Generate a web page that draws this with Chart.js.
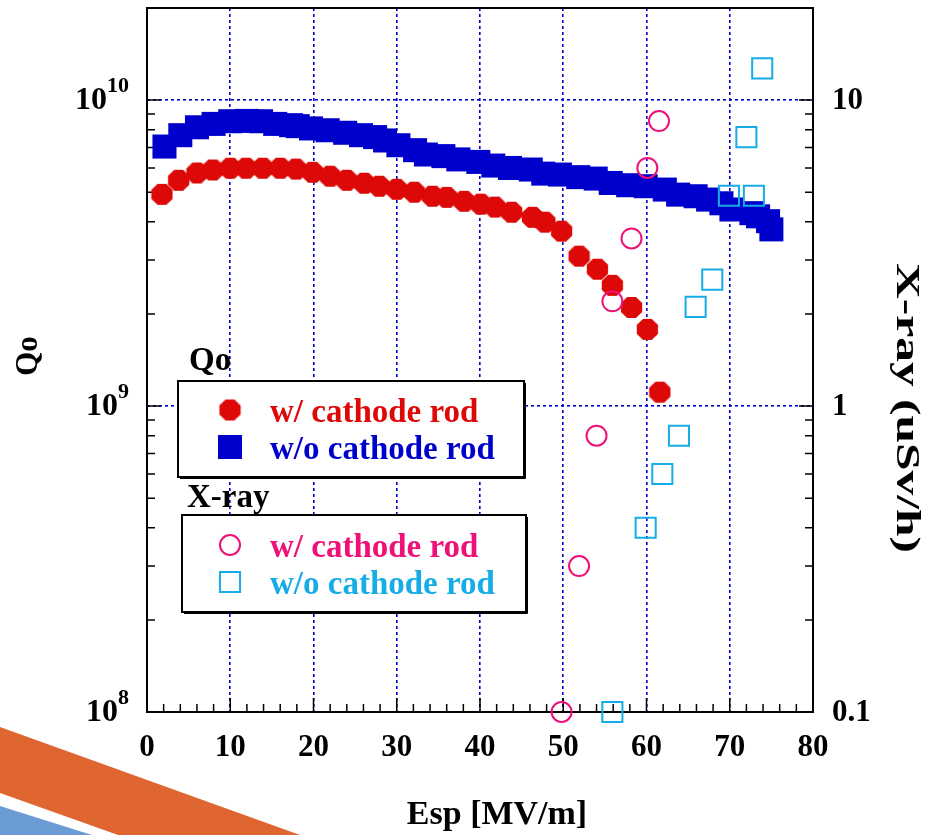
<!DOCTYPE html>
<html><head><meta charset="utf-8">
<script src="https://cdn.jsdelivr.net/npm/chart.js@4/dist/chart.umd.min.js"></script>
<style>html,body{margin:0;padding:0;background:#fff;}</style>
</head><body>
<canvas id="c" width="928" height="835"></canvas>
<script>
// ---- data ----
const qWithEsp = [1.8,3.8,6.0,7.9,10.0,11.9,13.9,16.0,17.9,19.9,22.0,24.0,26.1,27.9,30.0,32.1,34.3,36.0,38.1,40.1,41.8,43.8,46.3,47.8,49.8,51.9,54.1,55.9,58.2,60.1,61.6];
const qWithVal = [4.92e9,5.47e9,5.78e9,5.91e9,5.99e9,5.99e9,5.99e9,5.99e9,5.95e9,5.81e9,5.64e9,5.47e9,5.35e9,5.23e9,5.11e9,5.00e9,4.85e9,4.81e9,4.67e9,4.57e9,4.47e9,4.30e9,4.14e9,3.99e9,3.73e9,3.09e9,2.80e9,2.48e9,2.10e9,1.78e9,1.11e9];
const qWithoutEsp = [2.1,4.0,6.0,8.0,10.0,12.0,13.7,15.4,17.3,18.1,19.7,21.7,23.8,25.7,27.4,28.6,30.2,32.2,33.5,35.6,37.4,39.8,41.6,43.6,46.1,47.6,49.6,51.8,53.9,55.7,57.8,59.9,62.2,63.8,65.9,67.4,69.0,70.2,72.6,73.4,74.6,75.0];
const qWithoutVal = [7.05e9,7.68e9,8.15e9,8.36e9,8.53e9,8.55e9,8.53e9,8.36e9,8.28e9,8.22e9,8.08e9,7.97e9,7.82e9,7.68e9,7.57e9,7.38e9,7.12e9,6.86e9,6.64e9,6.56e9,6.40e9,6.28e9,6.11e9,6.00e9,5.93e9,5.75e9,5.71e9,5.60e9,5.54e9,5.36e9,5.27e9,5.23e9,5.10e9,4.91e9,4.85e9,4.73e9,4.60e9,4.39e9,4.27e9,4.17e9,4.02e9,3.78e9];
const xrayWithEsp = [49.8,51.9,54.0,55.9,58.2,60.1,61.5];
const xrayWithVal = [0.10,0.30,0.80,2.20,3.53,6.0,8.54];
const xrayWithoutEsp = [55.9,59.9,61.9,63.9,65.9,67.9,69.9,72.0,72.9,73.9];
const xrayWithoutVal = [0.10,0.40,0.60,0.80,2.11,2.59,4.87,7.57,4.87,12.7];
const seriesLabels = ['w/ cathode rod','w/o cathode rod','w/ cathode rod','w/o cathode rod'];
const legendTitles = ['Qo','X-ray'];
const xTickValues = [0,10,20,30,40,50,60,70,80];
const qTickValues = [1e8,1e9,1e10];
const qTickExps = ['8','9','10'];
const xrayTickValues = [0.1,1,10];
const xrayTickLabels = ['0.1','1','10'];
const xTitle = 'Esp [MV/m]';
const yTitle = 'Qo';
const y2Title = 'X-ray (uSv/h)';

// ---- styles ----
const RED='#dd0808', BLUE='#0000cc', PINK='#ee1177', CYAN='#16ade6';
const FONT='"Liberation Serif","Times New Roman",serif';

function octagon(d, color){
  const c=document.createElement('canvas'); c.width=d; c.height=d;
  const g=c.getContext('2d'); g.fillStyle=color; g.beginPath();
  for(let i=0;i<8;i++){const a=Math.PI/8+i*Math.PI/4; const px=d/2+d/2*Math.cos(a), py=d/2+d/2*Math.sin(a); i?g.lineTo(px,py):g.moveTo(px,py);}
  g.closePath(); g.fill(); return c;
}
const redOct = octagon(23, RED);

const pts=(xs,ys)=>xs.map((x,i)=>({x:x,y:ys[i]}));

const decor={id:'decor',beforeDraw(chart){
  const ctx=chart.ctx; ctx.save();
  ctx.fillStyle='#fff'; ctx.fillRect(0,0,chart.width,chart.height);
  ctx.fillStyle='#df6631';
  ctx.beginPath(); ctx.moveTo(0,727); ctx.lineTo(300,835); ctx.lineTo(118,835); ctx.lineTo(0,793); ctx.closePath(); ctx.fill();
  ctx.fillStyle='#6b9bd5';
  ctx.beginPath(); ctx.moveTo(0,806); ctx.lineTo(92,835); ctx.lineTo(0,835); ctx.closePath(); ctx.fill();
  ctx.restore();
}};

const frame={id:'frame',beforeDatasetsDraw(chart){
  const {ctx,chartArea:a,scales}=chart; const x=scales.x,y=scales.y,y2=scales.y2;
  ctx.save(); ctx.strokeStyle='#000'; ctx.lineWidth=2;
  ctx.strokeRect(a.left,a.top,a.right-a.left,a.bottom-a.top);
  ctx.lineWidth=1.5; ctx.beginPath();
  for(let v=0; v<=80; v+=2){ const px=x.getPixelForValue(v); const L=(v%10===0)?14:8; ctx.moveTo(px,a.bottom); ctx.lineTo(px,a.bottom-L); }
  for(let d=8; d<=10; d++){ for(let m=1;m<=9;m++){ const v=m*Math.pow(10,d); if(v<y.min||v>y.max) continue; const py=y.getPixelForValue(v); const L=m===1?14:8; ctx.moveTo(a.left,py); ctx.lineTo(a.left+L,py);} }
  for(let d=-1; d<=1; d++){ for(let m=1;m<=9;m++){ const v=m*Math.pow(10,d); if(v<y2.min||v>y2.max*1.0001) continue; const py=y2.getPixelForValue(v); const L=m===1?14:8; ctx.moveTo(a.right,py); ctx.lineTo(a.right-L,py);} }
  ctx.stroke(); ctx.restore();
}};

function drawMarker(ctx, ds, cx, cy){
  ctx.save();
  if(ds.pointStyle instanceof HTMLCanvasElement){ ctx.drawImage(ds.pointStyle, cx-ds.pointStyle.width/2, cy-ds.pointStyle.height/2); }
  else if(ds.pointStyle==='rect'){ const s=Math.SQRT1_2*ds.pointRadius; ctx.beginPath(); ctx.rect(cx-s,cy-s,2*s,2*s);
    if(ds.backgroundColor && ds.backgroundColor!=='rgba(0,0,0,0)'){ctx.fillStyle=ds.backgroundColor; ctx.fill();}
    if(ds.borderWidth){ctx.strokeStyle=ds.borderColor; ctx.lineWidth=ds.borderWidth; ctx.stroke();} }
  else { ctx.beginPath(); ctx.arc(cx,cy,ds.pointRadius,0,Math.PI*2);
    if(ds.backgroundColor && ds.backgroundColor!=='rgba(0,0,0,0)'){ctx.fillStyle=ds.backgroundColor; ctx.fill();}
    if(ds.borderWidth){ctx.strokeStyle=ds.borderColor; ctx.lineWidth=ds.borderWidth; ctx.stroke();} }
  ctx.restore();
}

const legendBoxes={id:'legendBoxes',afterDatasetsDraw(chart){
  const ctx=chart.ctx; const dss=chart.data.datasets;
  const boxes=[{title:legendTitles[0],tx:189,ty:370,bx:178,by:381,bw:346,bh:96,items:[0,1],my:[410,447],tyl:[422,459]},
               {title:legendTitles[1],tx:187,ty:507,bx:182,by:515,bw:344,bh:97,items:[2,3],my:[545,582],tyl:[557,594]}];
  ctx.save();
  boxes.forEach(b=>{
    ctx.fillStyle='#fff'; ctx.fillRect(b.bx,b.by,b.bw,b.bh);
    ctx.strokeStyle='#000'; ctx.lineWidth=2; ctx.strokeRect(b.bx,b.by,b.bw,b.bh);
    ctx.lineWidth=1; ctx.beginPath(); ctx.moveTo(b.bx+b.bw+1.5,b.by+2); ctx.lineTo(b.bx+b.bw+1.5,b.by+b.bh+1.5); ctx.lineTo(b.bx+2,b.by+b.bh+1.5); ctx.stroke();
    ctx.fillStyle='#000'; ctx.font='bold 33px '+FONT; ctx.textAlign='left'; ctx.textBaseline='alphabetic';
    ctx.fillText(b.title,b.tx,b.ty);
    b.items.forEach((k,j)=>{ const ds=dss[k]; drawMarker(ctx,ds,230,b.my[j]);
      ctx.fillStyle=ds.textColor; ctx.font='bold 33px '+FONT; ctx.fillText(ds.label,270,b.tyl[j]); });
  });
  ctx.restore();
}};

const labels={id:'labels',afterDraw(chart){
  const {ctx,chartArea:a,scales}=chart; const x=scales.x,y=scales.y,y2=scales.y2;
  ctx.save(); ctx.fillStyle='#000';
  ctx.font='bold 31px '+FONT; ctx.textAlign='center'; ctx.textBaseline='middle';
  xTickValues.forEach(v=>ctx.fillText(String(v),x.getPixelForValue(v),748));
  qTickValues.forEach((v,i)=>{ const py=y.getPixelForValue(v);
    ctx.font='bold 22px '+FONT; const ew=ctx.measureText(qTickExps[i]).width;
    ctx.textAlign='right'; ctx.textBaseline='middle'; ctx.fillText(qTickExps[i],129,py-14);
    ctx.font='bold 32px '+FONT; ctx.fillText('10',129-ew,py+1); });
  ctx.font='bold 31px '+FONT; ctx.textAlign='left'; ctx.textBaseline='middle';
  xrayTickValues.forEach((v,i)=>ctx.fillText(xrayTickLabels[i],832,y2.getPixelForValue(v)+1));
  ctx.font='bold 34px '+FONT; ctx.textAlign='center'; ctx.textBaseline='middle';
  ctx.fillText(xTitle,(a.left+a.right)/2+17,815);
  ctx.save(); ctx.translate(29,356); ctx.rotate(-Math.PI/2); ctx.font='bold 31px '+FONT; ctx.fillText(yTitle,0,0); ctx.restore();
  ctx.save(); ctx.translate(906,408); ctx.rotate(Math.PI/2); ctx.scale(1.5,1); ctx.font='bold 33px '+FONT; ctx.fillText(y2Title,0,0); ctx.restore();
  ctx.restore();
}};

const gridColor=(vals)=>(c)=>{ const v=c.tick&&c.tick.value; return (vals.includes(v))?'rgba(0,0,0,0)':BLUE; };

new Chart(document.getElementById('c'),{
  type:'scatter',
  data:{datasets:[
    {label:seriesLabels[0],data:pts(qWithEsp,qWithVal),yAxisID:'y',pointStyle:redOct,pointRadius:11,backgroundColor:RED,borderColor:RED,borderWidth:0,textColor:RED,order:3,clip:false},
    {label:seriesLabels[1],data:pts(qWithoutEsp,qWithoutVal),yAxisID:'y',pointStyle:'rect',pointRadius:17,backgroundColor:BLUE,borderColor:BLUE,borderWidth:0,textColor:BLUE,order:2,clip:false},
    {label:seriesLabels[2],data:pts(xrayWithEsp,xrayWithVal),yAxisID:'y2',pointStyle:'circle',pointRadius:10,backgroundColor:'rgba(0,0,0,0)',borderColor:PINK,borderWidth:2,textColor:PINK,order:1,clip:false},
    {label:seriesLabels[3],data:pts(xrayWithoutEsp,xrayWithoutVal),yAxisID:'y2',pointStyle:'rect',pointRadius:14.2,backgroundColor:'rgba(0,0,0,0)',borderColor:CYAN,borderWidth:2,textColor:CYAN,order:0,clip:false}
  ]},
  options:{
    responsive:false, animation:false, devicePixelRatio:1,
    layout:{autoPadding:false,padding:{top:8,left:0,right:0,bottom:0}},
    plugins:{legend:{display:false},tooltip:{enabled:false}},
    elements:{point:{hoverRadius:0}},
    scales:{
      x:{type:'linear',position:'bottom',min:0,max:80,
        afterBuildTicks:s=>{s.ticks=xTickValues.map(v=>({value:v}));},
        afterFit:s=>{s.height=123;},
        ticks:{display:false},
        grid:{color:gridColor([0,80]),lineWidth:1.6,drawTicks:false},
        border:{display:false,dash:[3,3]}},
      y:{type:'logarithmic',position:'left',min:1e8,max:2e10,
        afterBuildTicks:s=>{s.ticks=qTickValues.map(v=>({value:v}));},
        afterFit:s=>{s.width=147;},
        ticks:{display:false},
        grid:{color:gridColor([1e8]),lineWidth:1.6,drawTicks:false},
        border:{display:false,dash:[3,3]}},
      y2:{type:'logarithmic',position:'right',min:0.1,max:20,
        afterBuildTicks:s=>{s.ticks=xrayTickValues.map(v=>({value:v}));},
        afterFit:s=>{s.width=115;},
        ticks:{display:false},
        grid:{display:false,drawTicks:false},
        border:{display:false}}
    }
  },
  plugins:[decor,frame,legendBoxes,labels]
});
</script>
</body></html>
